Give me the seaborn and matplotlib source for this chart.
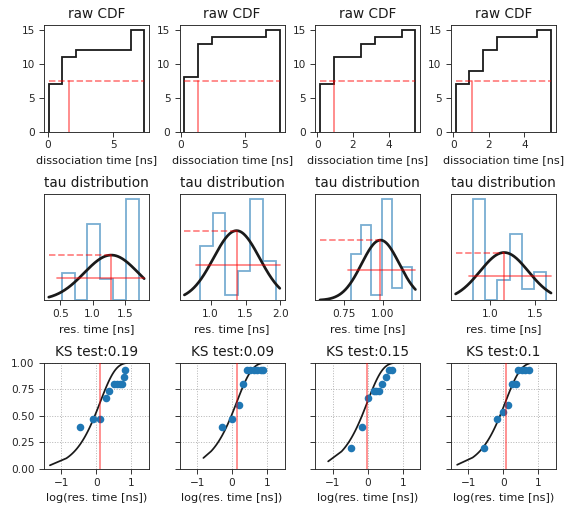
import numpy as np
import matplotlib
matplotlib.use("Agg")
import matplotlib.pyplot as plt
import seaborn as sns

PT = 0.814  # point scale used for text and strokes at 100 dpi
BLUE = "#1f77b4"

# ---- raw dissociation times: 7 equal-width bins per run, 15 runs ----
n_runs = 15
cdf_first_last = [(0.05, 7.37), (0.26, 7.73), (0.15, 5.50), (0.13, 5.51)]
cdf_bin_counts = [
    [7, 4, 1, 0, 0, 0, 3],
    [8, 5, 1, 0, 0, 0, 1],
    [7, 4, 0, 2, 1, 0, 1],
    [7, 2, 3, 2, 0, 0, 1],
]
cdf_median = [1.57, 1.30, 0.95, 1.03]

# ---- bootstrapped residence times (tau) ----
tau_first_last = [(0.52, 1.72), (0.85, 1.93), (0.797, 1.19), (0.812, 1.622)]
tau_density = [
    [0.58, 0.00, 1.61, 0.44, 0.00, 2.13],
    [0.95, 1.51, 0.09, 0.51, 1.76, 0.68],
    [2.49, 4.09, 0.27, 5.51, 0.67, 1.82],
    [3.17, 0.00, 0.63, 2.06, 0.34, 0.87],
]
tau_mean = [1.29, 1.371, 0.986, 1.156]
tau_std = [0.42, 0.33, 0.122, 0.267]
fit_span = [(0.32, 1.80), (0.624, 1.99), (0.595, 1.212), (0.62, 1.674)]
half_span = [(0.45, 1.80), (0.79, 1.99), (0.776, 1.212), (0.768, 1.674)]
tau_ticks = [[0.5, 1.0, 1.5], [1.0, 1.5, 2.0], [0.75, 1.00], [1.0, 1.5]]

# ---- KS test: empirical CDF of log10 residence times ----
ks_value = [0.19, 0.09, 0.15, 0.1]
ks_logt = [
    [-0.47, -0.09, 0.10, 0.27, 0.37, 0.50, 0.58, 0.66, 0.74, 0.79, 0.82],
    [-0.30, 0.01, 0.20, 0.30, 0.42, 0.52, 0.62, 0.72, 0.82, 0.89],
    [-0.47, -0.16, 0.01, 0.17, 0.25, 0.33, 0.41, 0.52, 0.62, 0.70],
    [-0.55, -0.19, -0.01, 0.13, 0.24, 0.35, 0.42, 0.52, 0.62, 0.72],
]
ks_rank = [
    [6, 7, 7, 10, 11, 12, 12, 12, 12, 13, 14],
    [6, 7, 9, 12, 14, 14, 14, 14, 14, 14],
    [3, 6, 10, 11, 11, 11, 12, 13, 14, 14],
    [3, 7, 8, 9, 12, 12, 14, 14, 14, 14],
]
# start, first sample and last sample (log10 ns) of the exponential model curve
ks_curve_logt = [(-1.33, -0.86, 0.87), (-0.82, -0.60, 0.89),
                 (-1.13, -0.75, 0.74), (-1.32, -0.88, 0.74)]

sns.set_theme(style="ticks")
plt.rcParams.update({
    "font.family": ["DejaVu Sans"],
    "axes.titlesize": 12 * PT,
    "axes.labelsize": 10 * PT,
    "xtick.labelsize": 7.6,
    "ytick.labelsize": 7.6,
    "axes.linewidth": 0.8 * PT,
    "axes.edgecolor": "0.15",
    "text.color": "0.1",
    "axes.labelcolor": "0.1",
    "xtick.color": "0.15",
    "ytick.color": "0.15",
    "xtick.major.size": 3.4,
    "ytick.major.size": 3.4,
    "xtick.major.width": 0.8 * PT,
    "ytick.major.width": 0.8 * PT,
    "xtick.major.pad": 3.0,
    "ytick.major.pad": 3.2,
    "axes.titlepad": 6 * PT,
    "axes.labelpad": 4 * PT,
})

fig, axes = plt.subplots(3, 4, figsize=(5.66, 5.11), dpi=100)
fig.subplots_adjust(left=0.0777, right=0.982, top=0.951, bottom=0.082,
                    wspace=0.292, hspace=0.585)

red = dict(color="red", alpha=0.5, lw=1.25)

for j in range(4):
    # raw cumulative histogram of dissociation times
    ax = axes[0, j]
    lo, hi = cdf_first_last[j]
    edges = np.linspace(lo, hi, len(cdf_bin_counts[j]) + 1)
    ax.hist(edges[:-1], bins=edges, weights=cdf_bin_counts[j], cumulative=True,
            histtype="step", color="k", lw=1.3)
    half = n_runs / 2
    ax.plot([lo, hi], [half, half], ls="--", **red)
    ax.plot([cdf_median[j]] * 2, [0, half], **red)
    ax.set_title("raw CDF")
    ax.set_xlabel("dissociation time [ns]")

    # distribution of bootstrapped tau with a normal fit
    ax = axes[1, j]
    lo, hi = tau_first_last[j]
    edges = np.linspace(lo, hi, len(tau_density[j]) + 1)
    ax.hist(edges[:-1], bins=edges, weights=tau_density[j], histtype="step",
            color=BLUE, alpha=0.6, lw=1.3)
    m, s = tau_mean[j], tau_std[j]
    xf = np.linspace(fit_span[j][0], fit_span[j][1], 200)
    pdf = np.exp(-0.5 * ((xf - m) / s) ** 2) / (s * np.sqrt(2 * np.pi))
    sns.lineplot(x=xf, y=pdf, ax=ax, color="k", lw=1.95, sort=False, estimator=None)
    peak = 1 / (s * np.sqrt(2 * np.pi))
    ax.plot([m, m], [0, peak], **red)
    ax.plot([fit_span[j][0], m], [peak, peak], ls="--", **red)
    ax.plot(list(half_span[j]), [peak / 2, peak / 2], **red)
    ax.set_xticks(tau_ticks[j])
    ax.set_yticks([])
    ax.set_title("tau distribution")
    ax.set_xlabel("res. time [ns]")

    # KS test: empirical CDF vs exponential model
    ax = axes[2, j]
    ax.grid(True, ls=":", color="0.7", lw=0.7)
    start, first, last = ks_curve_logt[j]
    lt = np.concatenate([[start], np.linspace(first, last, 60)])
    model = 1 - np.exp(-(10 ** lt) / m)
    sns.lineplot(x=lt, y=model, ax=ax, color="k", lw=1.25, sort=False, estimator=None)
    sns.scatterplot(x=ks_logt[j], y=np.array(ks_rank[j]) / n_runs, ax=ax,
                    s=30, color=BLUE, linewidth=0, zorder=3)
    ax.axvline(np.log10(m), color="red", alpha=0.5, lw=1.2, zorder=4)
    ax.set_xlim(-1.5, 1.5)
    ax.set_ylim(0, 1)
    ax.set_xticks([-1, 0, 1])
    ax.set_yticks([0, 0.25, 0.5, 0.75, 1.0])
    if j == 0:
        ax.set_yticklabels(["0.00", "0.25", "0.50", "0.75", "1.00"])
    else:
        ax.tick_params(labelleft=False)
    ax.set_title("KS test:" + str(ks_value[j]))
    ax.set_xlabel("log(res. time [ns])")

fig.savefig("out.png", dpi=100)
